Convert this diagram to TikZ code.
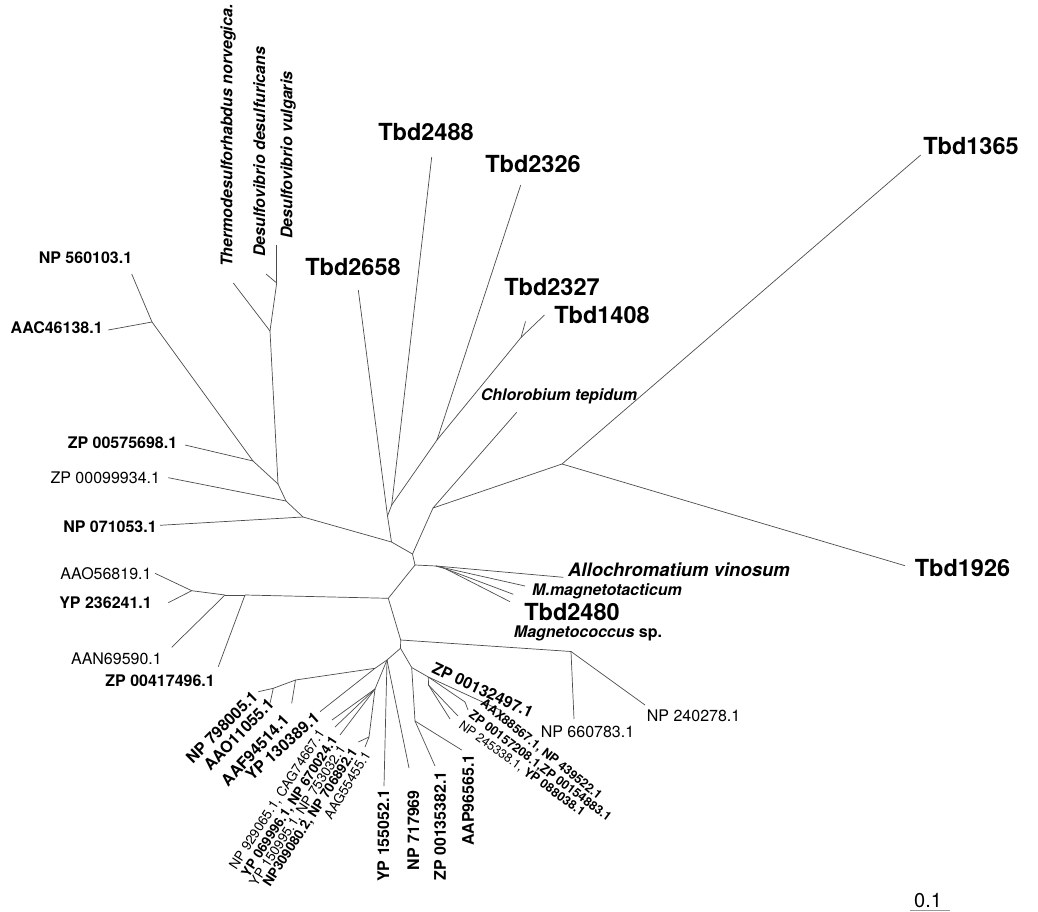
\documentclass[tikz,border=0pt]{standalone}
\usepackage{fontspec}
\setmainfont{TeX Gyre Heros}
\usetikzlibrary{positioning}

\begin{document}
\begin{tikzpicture}[
    x=1pt,y=-1pt,
    branch/.style={draw=black!70,line width=0.7pt},
    tbd/.style={font=\fontsize{23.5}{26}\selectfont\bfseries,inner sep=0pt},
    acc/.style={font=\fontsize{16}{18}\selectfont\bfseries,inner sep=0pt},
    accr/.style={font=\fontsize{16}{18}\selectfont,inner sep=0pt},
    spec/.style={font=\fontsize{16}{18}\selectfont\bfseries\itshape,inner sep=0pt},
    tiny/.style={font=\fontsize{13.5}{15}\selectfont,inner sep=0pt},
    tinyr/.style={font=\fontsize{12.5}{14}\selectfont,inner sep=0pt}
    ]

    \useasboundingbox (0,0) rectangle (1038,912);

    % inner nodes of the tree
    \foreach \n/\x/\y in {
        nA/152/322, nZ5/253/461, nD/278/484, nZ0/286/501, nN7/303/517,
        nT/270/331, nDv/276.7/283,
        c1/391.5/542, n58/387.5/516, n88/391.7/505, n26/437/440, n27/521/337.5,
        c2/412.5/554, nCh/433/508, n13/562/464, c3/415/565, nAl/436/566, nMg/446/569,
        c4/388.3/598.3, nL1/245/595, nL2/225/595, nL3/191.7/590.7,
        c5/400.7/640, nNP/571/651.5, c6/400.5/648.3,
        c7/387/660, nA1/375/668.3, nA2/295.5/680, nA3/273.3/688.3,
        nB1/375/689, nB2/369/737,
        c8/411.7/667.5, nR1/415/721, nR2/428.3/677, nR3/428.5/685, nR4/465/702}
      \coordinate (\n) at (\x,\y);

    % leaf ends
    \foreach \n/\x/\y in {
        lNPa/131.7/274, lAAC/108.3/330, lZP5/185/445, lZP0/168.3/477.7,
        lNP7/160/525.3, lThe/233.3/283, lDde/266/274, lDvu/276.7/245,
        l58/358.3/290, l88/431.7/157, l26/520.7/185, l27/525.5/321.5,
        l08/544.5/315, lChl/516.7/412.3, l65/920.7/155, l19/905/565.7,
        lAllo/563.3/577.3, lMmag/525/586, l80/513.3/594.3, lMcoc/510/601.7,
        lAAO/155/573.3, lYP2/168.3/602.7, lAAN/171.7/647.3, lZP4/218.3/666.7,
        lNP66/574/719, lNP24/645/705,
        lNP79/258.3/691.7, lAAO1/270/703.3, lAAF/291.7/703.3, lYP13/320/711.7,
        lCAG/332/720, lNP67/335/727, lNP75/340/735, lNP70/358.3/742, lAAG/365/747,
        lYP15/384/786, lNP71/409/768, lZP13/435/766, lAAP/461.7/750,
        lZP32/500/710, lAAX/468/710, lZP15/458/716, lNP45/450/719}
      \coordinate (\n) at (\x,\y);

    \foreach \a/\b in {
        nA/lNPa, nA/lAAC, nA/nZ5, nZ5/lZP5, nZ5/nD, nD/nT, nT/lThe, nT/nDv,
        nDv/lDde, nDv/lDvu, nD/nZ0, nZ0/lZP0, nZ0/nN7, nN7/lNP7, nN7/c1,
        c1/n58, n58/l58, n58/n88, n88/l88, n88/n26, n26/l26, n26/n27,
        n27/l27, n27/l08, c1/c2, c2/nCh, nCh/lChl, nCh/n13, n13/l65, n13/l19,
        c2/c3, c3/nAl, nAl/lAllo, nAl/lMmag, nAl/nMg, nMg/l80, nMg/lMcoc,
        c3/c4, c4/nL1, nL1/lZP4, nL1/nL2, nL2/lAAN, nL2/nL3, nL3/lAAO, nL3/lYP2,
        c4/c5, c5/nNP, nNP/lNP66, nNP/lNP24, c5/c6, c6/c7,
        c7/nA1, nA1/lYP13, nA1/nA2, nA2/lAAF, nA2/nA3, nA3/lAAO1, nA3/lNP79,
        c7/nB1, nB1/lCAG, nB1/lNP67, nB1/lNP75, nB1/nB2, nB2/lNP70, nB2/lAAG,
        c7/lYP15, c7/lNP71, c6/c8, c8/nR1, nR1/lZP13, nR1/lAAP,
        c8/nR2, nR2/lZP32, nR2/nR4, nR4/lAAX, nR2/nR3, nR3/lZP15, nR3/lNP45}
      \draw[branch] (\a) -- (\b);

    % Tbd sequences
    \node[tbd] (t58) at (353,267) {Tbd2658};
    \node[tbd] (t88) at (426,132) {Tbd2488};
    \node[tbd] (t26) at (533,164) {Tbd2326};
    \node[tbd] (t27) at (552,287) {Tbd2327};
    \node[tbd] (t08) at (602,315) {Tbd1408};
    \node[tbd] (t65) at (971,146) {Tbd1365};
    \node[tbd] (t19) at (962.5,568) {Tbd1926};
    \node[tbd] (t80) at (572,612) {Tbd2480};

    % species
    \node[spec,rotate=90,anchor=west] (tThe) at (228.3,267) {Thermodesulforhabdus norvegica.};
    \node[spec,rotate=90,anchor=west] (tDde) at (259.3,257) {Desulfovibrio desulfuricans};
    \node[spec,rotate=90,anchor=west] (tDvu) at (288.3,239) {Desulfovibrio vulgaris};
    \node[spec] (tChl) at (559,396) {Chlorobium tepidum};
    \node[spec,font=\fontsize{18.5}{20}\selectfont\bfseries\itshape] (tAllo) at (679,570) {Allochromatium vinosum};
    \node[spec] (tMmag) at (607,591) {M.magnetotacticum};
    \node[acc] (tMcoc) at (588,633) {\itshape Magnetococcus\upshape{} sp.};

    % accessions, left side
    \node[acc] (tNPa) at (85.5,258) {NP 560103.1};
    \node[acc] (tAAC) at (56.7,327.7) {AAC46138.1};
    \node[acc] (tZP5) at (122.5,442.7) {ZP 00575698.1};
    \node[accr] (tZP0) at (105.3,477.7) {ZP 00099934.1};
    \node[acc] (tNP7) at (110,526.7) {NP 071053.1};
    \node[accr] (tAAO) at (106,573.3) {AAO56819.1};
    \node[acc,anchor=east] (tYP2) at (152,603) {YP 236241.1};
    \node[accr,anchor=east] (tAAN) at (162,659) {AAN69590.1};
    \node[acc,anchor=east] (tZP4) at (215,681) {ZP 00417496.1};

    % accessions, bottom
    \node[acc,rotate=45,anchor=east] (tNP79) at (255,694) {NP 798005.1};
    \node[acc,rotate=46,anchor=east] (tAAO1) at (271,701) {AAO11055.1};
    \node[acc,rotate=47,anchor=east] (tAAF) at (286,717) {AAF94514.1};
    \node[acc,rotate=42,anchor=east] (tYP13) at (317,715) {YP 130389.1};
    \node[tiny,rotate=57,anchor=east] (tCAG) at (322,731) {NP 929065.1, CAG74667.1};
    \node[tiny,rotate=57,anchor=east] (tNP67) at (335,738) {\bfseries YP 069996.1, NP 670024.1};
    \node[tiny,rotate=57,anchor=east] (tNP75) at (343,747) {YP 150995.1, NP 753032.1};
    \node[tiny,rotate=57,anchor=east] (tNP70) at (355,750) {\bfseries NP309080.2, NP 706892.1};
    \node[tiny,rotate=59,anchor=east] (tAAG) at (367,752) {AAG55455.1};
    \node[acc,rotate=90,anchor=east] (tYP15) at (383.3,789) {YP 155052.1};
    \node[acc,rotate=90,anchor=east] (tNP71) at (413.3,790) {NP 717969};
    \node[acc,rotate=90,anchor=east] (tZP13) at (440,771) {ZP 00135382.1};
    \node[acc,rotate=90,anchor=east] (tAAP) at (468,754) {AAP96565.1};

    % accessions, bottom right
    \node[acc,rotate=-25,anchor=west] (tZP32) at (433,667) {ZP 00132497.1};
    \node[tinyr,rotate=-39,anchor=west] (tAAX) at (482,702) {\bfseries AAX88567.1, NP 439522.1};
    \node[tinyr,rotate=-37,anchor=west] (tZP15) at (470,714) {\bfseries ZP 00157208.1,ZP 00154883.1};
    \node[tinyr,rotate=-36,anchor=west] (tNP45) at (460,724) {NP 245338.1, \bfseries YP 088038.1};
    \node[accr] (tNP66) at (587.5,732) {NP 660783.1};
    \node[accr,anchor=west] (tNP24) at (646.7,715.7) {NP 240278.1};

    % scale bar
    \coordinate (sb1) at (910,910.7);
    \coordinate (sb2) at (950,910.7);
    \draw[draw=black!40,line width=0.8pt] (sb1) -- (sb2);
    \node[accr,font=\fontsize{20}{22}\selectfont,above=3pt of sb1,anchor=south west,xshift=4pt] (scale) {0.1};

\end{tikzpicture}
\end{document}
